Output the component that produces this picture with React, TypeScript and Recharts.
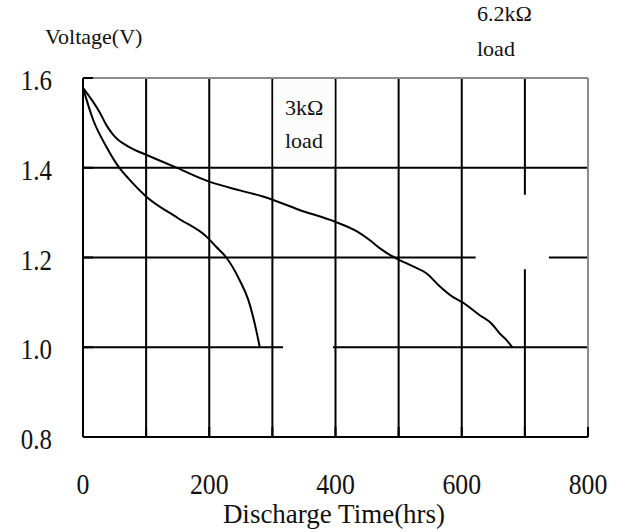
import React from 'react';
import { LineChart, Line, XAxis, YAxis, CartesianGrid, ReferenceArea, ReferenceLine } from 'recharts';

// 3kΩ load discharge curve
const hours3k = [0, 16, 37, 58, 74, 100, 150, 196, 211, 227, 248, 262, 272, 280];
const volts3k = [1.578, 1.507, 1.447, 1.399, 1.373, 1.336, 1.288, 1.246, 1.224, 1.2, 1.15, 1.105, 1.053, 1.0];

// 6.2kΩ load discharge curve
const hours62k = [0, 27, 37, 47, 55, 63, 80, 100, 150, 200, 250, 285, 343, 399, 434, 454, 470, 486, 499, 523, 544, 565, 587, 600, 628, 647, 660, 671, 680];
const volts62k = [1.578, 1.522, 1.495, 1.475, 1.463, 1.455, 1.441, 1.429, 1.399, 1.369, 1.349, 1.336, 1.306, 1.28, 1.258, 1.239, 1.221, 1.206, 1.196, 1.18, 1.165, 1.136, 1.111, 1.101, 1.072, 1.053, 1.031, 1.016, 1.0];

const xTicks = [0, 100, 200, 300, 400, 500, 600, 700, 800];
const xLabelTicks = [0, 200, 400, 600, 800];
const yTicks = [0.8, 1.0, 1.2, 1.4, 1.6];

const data3k = hours3k.map((t, i) => ({ t, v: volts3k[i] }));
const data62k = hours62k.map((t, i) => ({ t, v: volts62k[i] }));

const FONT = '"Liberation Serif", "Times New Roman", serif';

const XTick = (props: any) => {
  const { x, y, payload } = props;
  if (!xLabelTicks.includes(payload.value)) return null;
  return (
    <g transform={`translate(${x},${y + 67})`}>
      <text x={0} y={0} textAnchor="middle" fontSize={30} fontFamily={FONT} fill="#111" transform="scale(0.86,1)">
        {payload.value}
      </text>
    </g>
  );
};

const YTick = (props: any) => {
  const { x, y, payload } = props;
  return (
    <g transform={`translate(${x - 41},${y + 12})`}>
      <text x={0} y={0} textAnchor="end" fontSize={29} fontFamily={FONT} fill="#111" transform="scale(0.86,1)">
        {Number(payload.value).toFixed(1)}
      </text>
    </g>
  );
};

export default function App() {
  return (
    <div style={{ position: 'absolute', left: 0, top: 0, width: 626, height: 532, background: '#fff' }}>
      <LineChart width={626} height={532} margin={{ top: 78, right: 38, bottom: 35, left: 0 }} style={{ fontFamily: FONT }}>
        <CartesianGrid stroke="#000" strokeWidth={2} />
        <ReferenceArea x1={301.6} x2={398.4} y1={1.404} y2={1.596} fill="#fcfcfc" fillOpacity={1} stroke="none"
          label={() => (
            <g>
              <text x={285} y={115} fontSize={22} fontFamily={FONT} fill="#111">3kΩ</text>
              <text x={285} y={148} fontSize={22} fontFamily={FONT} fill="#111">load</text>
            </g>
          )}
        />
        <ReferenceArea x1={317} x2={396} y1={0.99} y2={1.01} fill="#fff" fillOpacity={1} stroke="none" />
        <ReferenceArea x1={622} x2={738} y1={1.174} y2={1.34} fill="#fff" fillOpacity={1} stroke="none"
          label={() => (
            <g>
              <text x={477} y={21} fontSize={22} fontFamily={FONT} fill="#111">6.2kΩ</text>
              <text x={477} y={56} fontSize={22} fontFamily={FONT} fill="#111">load</text>
            </g>
          )}
        />
        <ReferenceLine y={1.6} stroke="#8c8c8c" strokeWidth={2} />
        <ReferenceLine x={800} stroke="#8c8c8c" strokeWidth={2} />
        <XAxis
          type="number"
          dataKey="t"
          domain={[0, 800]}
          ticks={xTicks}
          interval={0}
          height={60}
          tickSize={-10}
          tickMargin={0}
          axisLine={{ stroke: '#000', strokeWidth: 2 }}
          tickLine={{ stroke: '#000', strokeWidth: 2 }}
          tick={<XTick />}
          label={() => (
            <text x={334} y={523} textAnchor="middle" fontSize={27} fontFamily={FONT} fill="#111">
              Discharge Time(hrs)
            </text>
          )}
        />
        <YAxis
          type="number"
          dataKey="v"
          domain={[0.8, 1.6]}
          ticks={yTicks}
          interval={0}
          width={83}
          tickSize={-10}
          tickMargin={0}
          axisLine={{ stroke: '#000', strokeWidth: 2 }}
          tickLine={{ stroke: '#000', strokeWidth: 2 }}
          tick={<YTick />}
          label={() => (
            <text x={45} y={44} fontSize={22} fontFamily={FONT} fill="#111">
              Voltage(V)
            </text>
          )}
        />
        <Line data={data3k} dataKey="v" type="monotone" stroke="#000" strokeWidth={2} dot={false} isAnimationActive={false} />
        <Line data={data62k} dataKey="v" type="monotone" stroke="#000" strokeWidth={2} dot={false} isAnimationActive={false} />
      </LineChart>
    </div>
  );
}
